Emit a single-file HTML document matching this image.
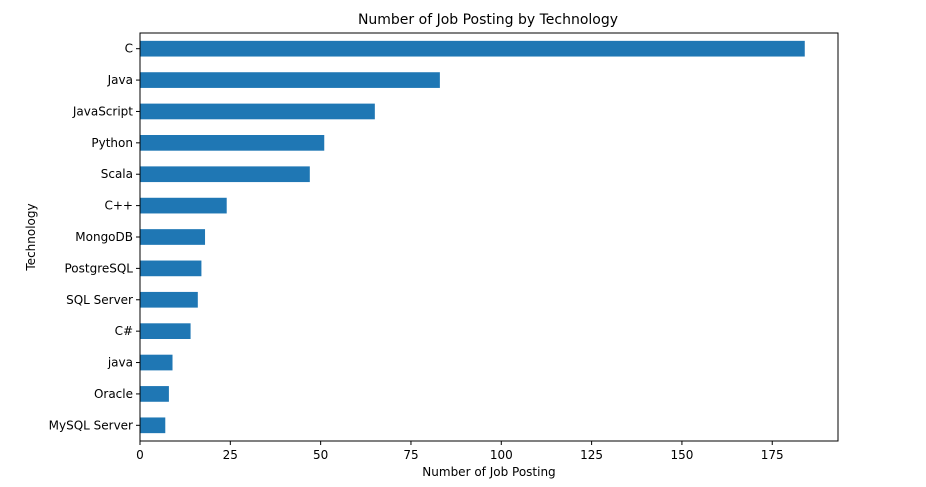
<!DOCTYPE html>
<html><head><meta charset="utf-8"><style>
body{margin:0;background:#fff;}
svg{display:block;font-family:"DejaVu Sans","Liberation Sans",sans-serif;}
</style></head><body>
<svg id="chart" width="926" height="487" viewBox="0 0 926 487">
<text x="488" y="24" font-size="14" text-anchor="middle" fill="#000">Number of Job Posting by Technology</text>
<g id="bars"></g>
<g id="yaxis"></g>
<g id="xaxis"></g>
<rect x="140" y="33" width="698" height="408" fill="none" stroke="#000" stroke-width="1"/>
<text x="489" y="476" font-size="12" text-anchor="middle">Number of Job Posting</text>
<text transform="translate(35,237) rotate(-90)" font-size="12" text-anchor="middle">Technology</text>
</svg>
<script>
const categories = ["C","Java","JavaScript","Python","Scala","C++","MongoDB","PostgreSQL","SQL Server","C#","java","Oracle","MySQL Server"];
const values = [184,83,65,51,47,24,18,17,16,14,9,8,7];
const xTicks = [0,25,50,75,100,125,150,175];
const NS="http://www.w3.org/2000/svg";
const L=140,R=838,T=33,B=441;
const xmax=Math.max(...values)*1.05;
const xs=v=>L+v/xmax*(R-L);
const step=(B-T)/categories.length;
const yc=i=>T+step*(i+0.5);
function mk(tag,attrs,parent){const e=document.createElementNS(NS,tag);for(const k in attrs)e.setAttribute(k,attrs[k]);parent.appendChild(e);return e;}
const gb=document.getElementById('bars'),gy=document.getElementById('yaxis'),gx=document.getElementById('xaxis');
categories.forEach((c,i)=>{
  const r=mk('rect',{x:xs(0),y:yc(i)-step*0.25,width:xs(values[i])-xs(0),height:step*0.5,fill:'#1f77b4'},gb);
  
  
  const t=mk('line',{x1:L-4,x2:L,y1:yc(i),y2:yc(i),stroke:'#000'},gy);
  
  
  const tx=mk('text',{x:L-7,y:yc(i)+4,'font-size':12,'text-anchor':'end'},gy);
  tx.textContent=c;
  
  
});
xTicks.forEach(v=>{
  const t=mk('line',{x1:xs(v),x2:xs(v),y1:B,y2:B+4,stroke:'#000'},gx);
  
  
  const tx=mk('text',{x:xs(v),y:B+18,'font-size':12,'text-anchor':'middle'},gx);
  tx.textContent=v;
  
  
});
</script>
</body></html>
